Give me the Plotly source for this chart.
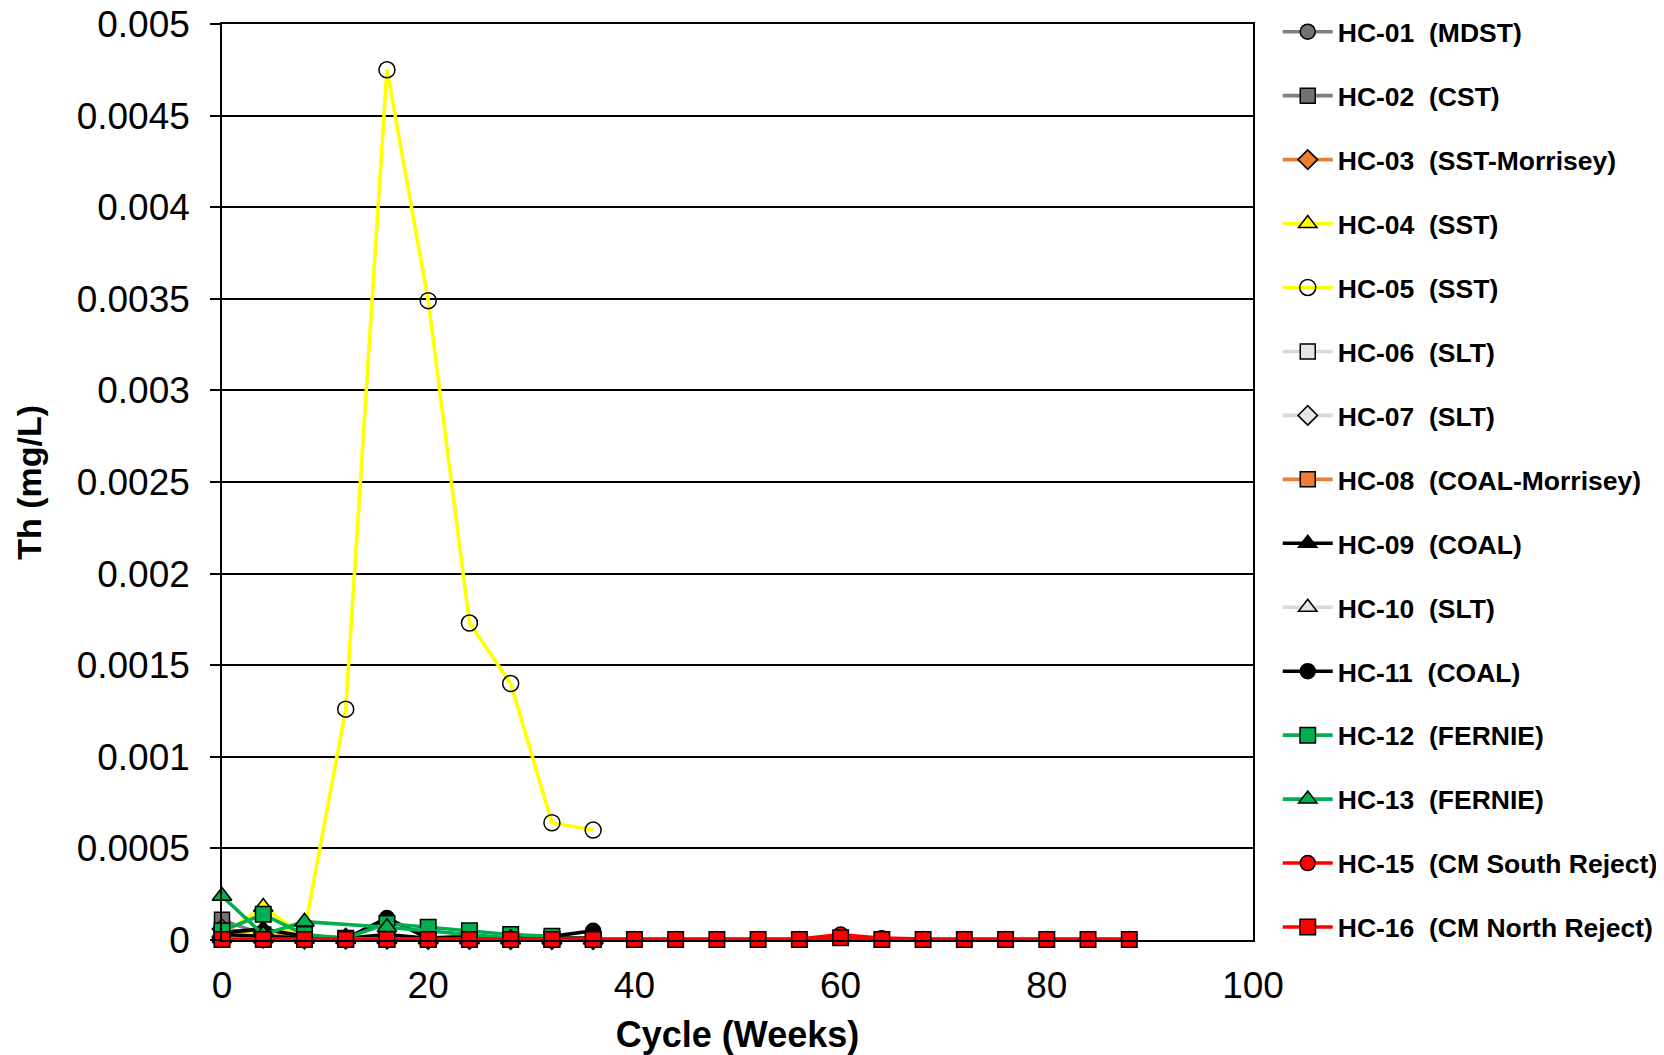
import plotly.graph_objects as go

# ---------------- data ----------------
weeks_early = [0, 4, 8, 12, 16, 20, 24, 28, 32, 36]
weeks_long = [0, 4, 8, 12, 16, 20, 24, 28, 32, 36, 40, 44, 48, 52, 56, 60, 64, 68, 72, 76, 80, 84, 88]
weeks_hc13 = [0, 4, 8, 16, 28]

hc01 = [0.00005, 0.00002, 0.00001, 0.000005, 0.00001, 0.000005, 0.000004, 0.000003, 0.000003, 0.000003]
hc02 = [0.00011, 0.00003, 0.00001, 0.000005, 0.000008, 0.000004, 0.000003, 0.000003, 0.000003, 0.000003]
hc03 = [0.00006, 0.00003, 0.00002, 0.00001, 0.000008, 0.000005, 0.000004, 0.000003, 0.000003, 0.000003]
hc04 = [0.00003, 0.00018, 0.00002, 0.000008, 0.000006, 0.000005, 0.000005, 0.000004, 0.000003, 0.000003]
hc05 = [0.00002, 0.00004, 0.00005, 0.00126, 0.00475, 0.00349, 0.00173, 0.0014, 0.00064, 0.0006]
hc06 = [0.00002, 0.00001, 0.000005, 0.000004, 0.000004, 0.000003, 0.000003, 0.000003, 0.000003, 0.000003]
hc07 = [0.000015, 0.00001, 0.000005, 0.000004, 0.000004, 0.000003, 0.000003, 0.000003, 0.000003, 0.000003]
hc08 = [0.00002, 0.00001, 0.000005, 0.000004, 0.000004, 0.000003, 0.000003, 0.000003, 0.000003, 0.000003]
hc09 = [0.00004, 0.00006, 0.00002, 0.00001, 0.00003, 0.00001, 0.00002, 0.00001, 0.00001, 0.00001]
hc10 = [0.00001, 0.000008, 0.000005, 0.000004, 0.000004, 0.000003, 0.000003, 0.000003, 0.000003, 0.000003]
hc11 = [0.00003, 0.00002, 0.00001, 0.000008, 0.00012, 0.00001, 0.00001, 0.000008, 0.00002, 0.00005]
hc12 = [0.00005, 0.00014, 0.00003, 0.00001, 0.00009, 0.00007, 0.00005, 0.00003, 0.00002]
hc13 = [0.00024, 0.00003, 0.0001, 0.00007, 0.00001]
hc15 = [0.000005] * 15 + [0.00003, 0.00001] + [0.000005] * 6
hc16 = [0.000003] * 15 + [0.000012] + [0.000003] * 7

names = ["HC-01", "HC-02", "HC-03", "HC-04", "HC-05", "HC-06", "HC-07", "HC-08",
         "HC-09", "HC-10", "HC-11", "HC-12", "HC-13", "HC-15", "HC-16"]
rocks = ["MDST", "CST", "SST-Morrisey", "SST", "SST", "SLT", "SLT", "COAL-Morrisey",
         "COAL", "SLT", "COAL", "FERNIE", "FERNIE", "CM South Reject", "CM North Reject"]

y_tickvals = [0, 0.0005, 0.001, 0.0015, 0.002, 0.0025, 0.003, 0.0035, 0.004, 0.0045, 0.005]
y_ticktext = ["0", "0.0005", "0.001", "0.0015", "0.002", "0.0025", "0.003", "0.0035", "0.004", "0.0045", "0.005"]
x_tickvals = [0, 20, 40, 60, 80, 100]

# ---------------- styles ----------------
series = [
    (weeks_early, hc01, "#808080", "circle", "#767171", 15),
    (weeks_early, hc02, "#808080", "square", "#767171", 15),
    (weeks_early, hc03, "#ED7D31", "diamond", "#ED7D31", 15),
    (weeks_early, hc04, "#FFFF00", "triangle-up", "#FFFF00", 17),
    (weeks_early, hc05, "#FFFF00", "circle", "rgba(255,255,255,0)", 16),
    (weeks_early, hc06, "#D9D9D9", "square", "#E7E6E6", 15),
    (weeks_early, hc07, "#D9D9D9", "diamond", "#E7E6E6", 15),
    (weeks_early, hc08, "#ED7D31", "square", "#ED7D31", 15),
    (weeks_early, hc09, "#000000", "triangle-up", "#000000", 17),
    (weeks_early, hc10, "#D9D9D9", "triangle-up", "#E7E6E6", 17),
    (weeks_early, hc11, "#000000", "circle", "#000000", 15),
    (weeks_early[:len(hc12)], hc12, "#00B050", "square", "#00B050", 15.5),
    (weeks_hc13, hc13, "#00B050", "triangle-up", "#00B050", 17),
    (weeks_long, hc15, "#FF0000", "circle", "#FF0000", 15),
    (weeks_long, hc16, "#FF0000", "square", "#FF0000", 15.5),
]

FONT = "Liberation Sans, Arial, sans-serif"
fig = go.Figure()
for i, (xs, ys, lc, sym, fc, sz) in enumerate(series):
    fig.add_trace(go.Scatter(
        x=xs, y=ys, mode="lines+markers",
        name=f"<b>{names[i]}\u00a0\u00a0({rocks[i]})</b>",
        legendgroup=f"g{i}",
        line=dict(color=lc, width=3.6),
        marker=dict(symbol=sym, size=sz, color=fc, line=dict(color="#000000", width=1.5)),
        cliponaxis=False,
    ))

# page body has an 8px margin, so the figure is 8px smaller and margins compensate
fig.update_layout(
    width=1656, height=1047,
    margin=dict(l=214, r=411, t=16, b=115, autoexpand=False),
    paper_bgcolor="white", plot_bgcolor="white",
    font=dict(family=FONT, color="black"),
    showlegend=True,
    legend=dict(
        x=1.024, y=1.0175, xanchor="left", yanchor="top",
        font=dict(size=26.5, family=FONT, color="black"),
        tracegroupgap=26.5, itemwidth=50,
        bgcolor="rgba(0,0,0,0)",
        maxheight=1100,
    ),
    annotations=[dict(
        text="<b>Th (mg/L)</b>", textangle=-90, showarrow=False,
        xref="paper", yref="paper", x=-0.1875, y=0.5,
        xanchor="center", yanchor="middle",
        font=dict(size=34, family=FONT, color="black"),
    )],
)
fig.update_xaxes(
    range=[0, 100], tickvals=x_tickvals, showgrid=False, zeroline=False,
    showline=True, linecolor="black", linewidth=1.6, mirror=True,
    ticks="", tickfont=dict(size=37, family=FONT), ticklabelstandoff=12,
    automargin=False, ticklabeloverflow="allow",
    title=dict(text="<b>Cycle (Weeks)</b>", font=dict(size=36, family=FONT), standoff=18),
)
fig.update_yaxes(
    range=[0, 0.005], tickvals=y_tickvals, ticktext=y_ticktext,
    showgrid=True, gridcolor="black", gridwidth=1.6, zeroline=False,
    showline=True, linecolor="black", linewidth=1.6, mirror=True,
    ticks="outside", ticklen=10, tickcolor="black", tickwidth=1.6,
    tickfont=dict(size=37, family=FONT), ticklabelstandoff=13,
    automargin=False, ticklabeloverflow="allow",
)

fig.write_html("out.html")
